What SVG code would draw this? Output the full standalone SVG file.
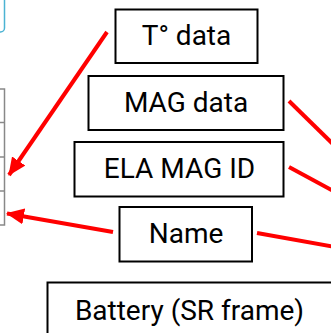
<svg xmlns="http://www.w3.org/2000/svg" width="331" height="333" viewBox="0 0 331 333">
<style>
.box{fill:#fff;stroke:#000;stroke-width:2}
.lbl{font-family:Roboto,"Liberation Sans",sans-serif;font-size:28px;fill:#000;text-anchor:middle}
.red{stroke:#ff0000;stroke-width:4;fill:none}
</style>
<defs>
<marker id="ah" markerUnits="userSpaceOnUse" markerWidth="18" markerHeight="16" refX="17" refY="8" orient="auto">
<path d="M0,0 L18,8 L0,16 Z" fill="#ff0000"/>
</marker>
</defs>
<g id="panel-left">
<rect x="-10" y="-6" width="14.5" height="38" rx="4" fill="#fff" stroke="#4bb3d3" stroke-width="1.5"/>
<rect x="-10" y="89" width="14.5" height="136" fill="#fff" stroke="#888" stroke-width="1.5"/>
<line x1="-10" y1="122.5" x2="4.5" y2="122.5" stroke="#888" stroke-width="1.5"/>
<line x1="-10" y1="157" x2="4.5" y2="157" stroke="#888" stroke-width="1.5"/>
<line x1="-10" y1="191" x2="4.5" y2="191" stroke="#888" stroke-width="1.5"/>
</g>
<g id="connectors">
<line class="red" x1="107" y1="32" x2="9" y2="175" marker-end="url(#ah)"/>
<line class="red" x1="113" y1="232" x2="7" y2="213.5" marker-end="url(#ah)"/>
<line class="red" x1="289" y1="101" x2="335" y2="146"/>
<line class="red" x1="289" y1="167" x2="335" y2="192"/>
<line class="red" x1="257" y1="233" x2="335" y2="247"/>
</g>
<g id="t-data"><rect class="box" x="115.5" y="9.5" width="142" height="53.5"/><text class="lbl" x="186.5" y="45">T° data</text></g>
<g id="mag-data"><rect class="box" x="88.5" y="76" width="195" height="54"/><text class="lbl" x="186" y="112">MAG data</text></g>
<g id="ela-mag-id"><rect class="box" x="74.5" y="142" width="209" height="54.5"/><text class="lbl" x="179.5" y="178">ELA MAG ID</text></g>
<g id="name"><rect class="box" x="119.5" y="207" width="132.5" height="54.5"/><text class="lbl" x="186" y="243">Name</text></g>
<g id="battery"><rect class="box" x="47.5" y="282.5" width="300" height="70"/><text class="lbl" x="189.5" y="320">Battery (SR frame)</text></g>
</svg>
